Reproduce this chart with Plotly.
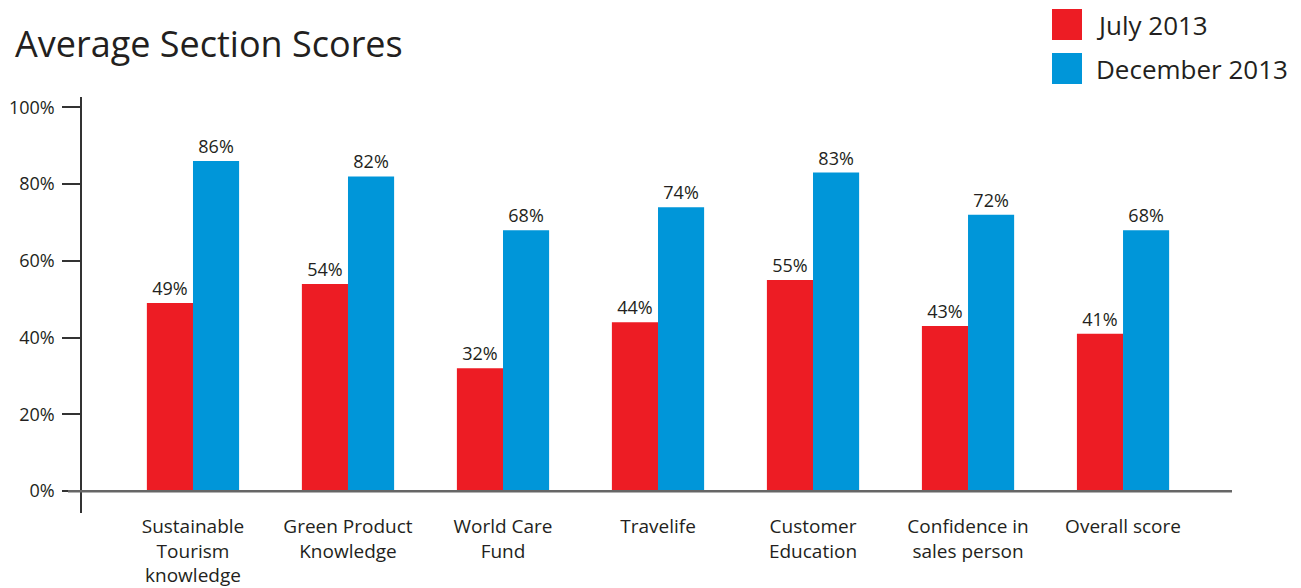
import plotly.graph_objects as go

categories = ["Sustainable<br>Tourism<br>knowledge", "Green Product<br>Knowledge", "World Care<br>Fund",
              "Travelife", "Customer<br>Education", "Confidence in<br>sales person", "Overall score"]
july_2013 = [49, 54, 32, 44, 55, 43, 41]
dec_2013 = [86, 82, 68, 74, 83, 72, 68]
series_names = ["July 2013", "December 2013"]
colors = ["#ED1C24", "#0096D9"]
y_tickvals = [0, 20, 40, 60, 80, 100]
y_ticktext = ["0%", "20%", "40%", "60%", "80%", "100%"]

FONT = "Open Sans"
TXT = "#231F20"
W, H = 1301, 588
ml, mr, mt, mb = 82, 69, 97, 75
pw, ph = W - ml - mr, H - mt - mb

def px(x):
    return (x - ml) / pw

def py(y):
    return (H - mb - y) / ph

xs = list(range(len(categories)))
fig = go.Figure()
for name, vals, col in zip(series_names, [july_2013, dec_2013], colors):
    fig.add_trace(go.Bar(
        x=xs, y=vals, name=name, marker_color=col, marker_line_width=0,
        text=[f"{v}%" for v in vals], textposition="outside",
        textfont=dict(family=FONT, size=18, color=TXT),
        cliponaxis=False, showlegend=False,
    ))

fig.update_layout(
    width=W, height=H,
    margin=dict(l=ml, r=mr, t=mt, b=mb, autoexpand=False),
    paper_bgcolor="white", plot_bgcolor="white",
    barmode="group", bargap=0.405, bargroupgap=0,
    font=dict(family=FONT, color=TXT),
    title=dict(text="Average Section Scores", x=15 / W, xanchor="left", xref="container",
               y=1 - 44 / H, yanchor="middle", yref="container",
               font=dict(family=FONT, size=36, color=TXT)),
    xaxis=dict(range=[-0.716, 6.703], tickvals=xs, ticktext=categories, automargin=False,
               showgrid=False, showline=False, zeroline=False, ticks="",
               tickfont=dict(family=FONT, size=19, color=TXT)),
    yaxis=dict(range=[-5.7, 102.7], tickvals=y_tickvals, ticktext=y_ticktext, automargin=False,
               showgrid=False, zeroline=False, showline=True, linecolor="#333333", linewidth=1.5,
               ticks="outside", ticklen=18, tickwidth=1.5, tickcolor="#333333",
               ticklabelstandoff=4,
               tickfont=dict(family=FONT, size=18, color=TXT)),
)

# baseline at 0%
fig.add_shape(type="line", xref="paper", yref="y", x0=px(68), x1=1, y0=0, y1=0,
              line=dict(color="#666666", width=2.5), layer="above")

# manual legend
legend_rows = [(9, 40, 25), (53, 84, 69)]
for (t, b, c), name, col in zip(legend_rows, series_names, colors):
    fig.add_shape(type="rect", xref="paper", yref="paper",
                  x0=px(1052), x1=px(1082), y0=py(b), y1=py(t),
                  fillcolor=col, line_width=0)
    fig.add_annotation(xref="paper", yref="paper", x=px(1094), y=py(c),
                       xanchor="left", yanchor="middle", text=name, showarrow=False,
                       font=dict(family=FONT, size=26, color=TXT))

fig.write_html("out.html")
